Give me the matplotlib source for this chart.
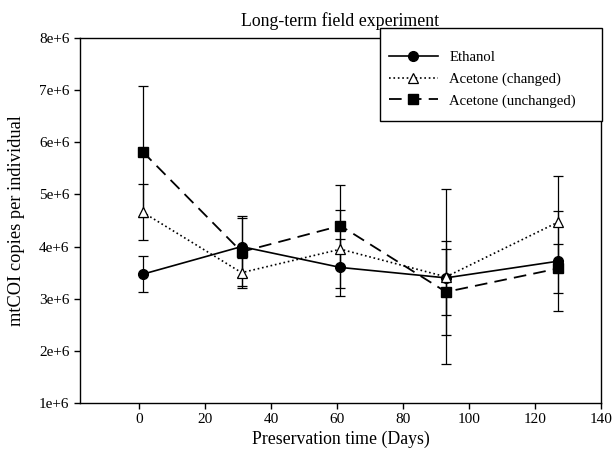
import matplotlib
matplotlib.use("Agg")
import matplotlib.pyplot as plt
from matplotlib.patches import Rectangle

plt.rcParams['font.family'] = ['Liberation Serif', 'DejaVu Serif']

# preservation time (days)
days = [1, 31, 61, 93, 127]

ethanol = [3.47e6, 4.00e6, 3.60e6, 3.40e6, 3.72e6]
ethanol_err = [0.35e6, 0.59e6, 0.55e6, 0.71e6, 0.96e6]

acet_changed = [4.66e6, 3.50e6, 3.95e6, 3.42e6, 4.47e6]
acet_changed_err = [0.54e6, 0.29e6, 0.75e6, 1.68e6, 0.88e6]

acet_unchanged = [5.82e6, 3.90e6, 4.40e6, 3.13e6, 3.58e6]
acet_unchanged_err = [1.26e6, 0.65e6, 0.78e6, 0.83e6, 0.47e6]

labels = ['Ethanol', 'Acetone (changed)', 'Acetone (unchanged)']

yticks = [1e6, 2e6, 3e6, 4e6, 5e6, 6e6, 7e6, 8e6]
ylabels = ['1e+6', '2e+6', '3e+6', '4e+6', '5e+6', '6e+6', '7e+6', '8e+6']
xticks = [0, 20, 40, 60, 80, 100, 120, 140]

W, H = 612, 451
fig = plt.figure(figsize=(6.12, 4.51), dpi=100)
ax = fig.add_axes([0.1307, 0.1064, 0.8513, 0.8093])

eb = dict(ecolor='black', elinewidth=0.9, capsize=3.5, capthick=0.9, zorder=3)
e1 = ax.errorbar(days, ethanol, yerr=ethanol_err, color='black', linestyle='-',
                 marker='o', markersize=7, markerfacecolor='black', lw=1.2, **eb)
e2 = ax.errorbar(days, acet_changed, yerr=acet_changed_err, color='black', linestyle=':',
                 marker='^', markersize=7, markerfacecolor='white', markeredgewidth=0.9,
                 lw=1.2, **eb)
e3 = ax.errorbar(days, acet_unchanged, yerr=acet_unchanged_err, color='black',
                 linestyle=(0, (7, 4)), marker='s', markersize=6.5,
                 markerfacecolor='black', lw=1.3, **eb)

ax.set_xlim(-18, 140)
ax.set_ylim(1e6, 8e6)
ax.set_xticks(xticks)
ax.set_yticks(yticks)
ax.set_yticklabels(ylabels)
ax.tick_params(direction='out', length=4, width=1, labelsize=11, top=False, right=False)
for s in ax.spines.values():
    s.set_linewidth(1)

ax.set_title('Long-term field experiment', fontsize=12.8, pad=9)
ax.set_xlabel('Preservation time (Days)', fontsize=12.8, labelpad=3)
ax.set_ylabel('mtCOI copies per individual', fontsize=13.2, labelpad=10)

# legend box, sticks out a little above the axes like the original
box = Rectangle((380 / W, 1 - 121 / H), 222 / W, 93 / H, transform=fig.transFigure,
                facecolor='white', edgecolor='black', lw=1, zorder=4)
fig.add_artist(box)

leg = fig.legend([e1[0], e2[0], e3[0]], labels, loc='upper left',
                 bbox_to_anchor=(389 / W, 1 - 51 / H), borderaxespad=0, borderpad=0,
                 fontsize=10.6, frameon=False, handlelength=3.3, handletextpad=0.8,
                 labelspacing=0.56)
leg.set_zorder(5)

fig.savefig('out.png', dpi=100)
